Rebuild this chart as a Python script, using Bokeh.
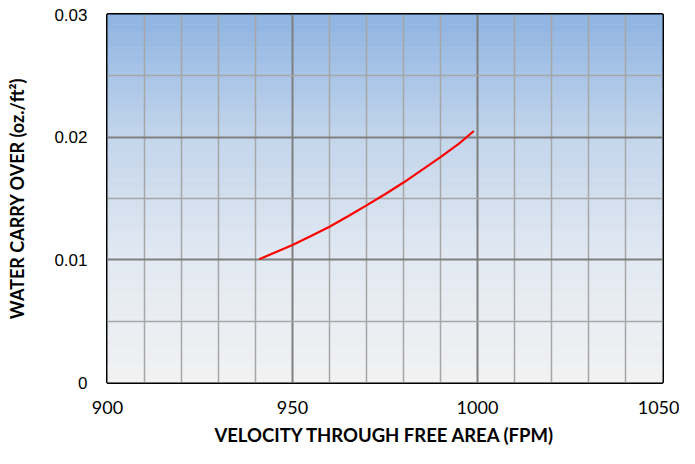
import numpy as np
from bokeh.plotting import figure
from bokeh.models import FixedTicker, Range1d
from bokeh.embed import file_html
from bokeh.resources import INLINE

# data
velocity = [941, 950, 955, 960, 965, 970, 975, 980, 985, 990, 995, 999]
carry_over = [0.01005, 0.01121, 0.01194, 0.01270, 0.01355, 0.01444, 0.01535,
              0.01630, 0.01734, 0.01838, 0.01948, 0.02050]

x_ticks = [900, 950, 1000, 1050]
x_minor = [910, 920, 930, 940, 960, 970, 980, 990, 1010, 1020, 1030, 1040]
y_ticks = [0, 0.01, 0.02, 0.03]
y_minor = [0.005, 0.015, 0.025]
y_tick_labels = ["0", "0.01", "0.02", "0.03"]

x_title = "VELOCITY THROUGH FREE AREA (FPM)"
y_title = "WATER CARRY OVER (oz./ft\u00b2)"

# background gradient stops (value -> rgb)
grad_pos = [0.0, 0.01, 0.02, 0.03]
grad_rgb = [(242, 242, 243), (226, 233, 242), (195, 213, 236), (141, 179, 226)]

p = figure(width=679, height=448, output_backend="svg", toolbar_location=None,
           x_range=Range1d(900, 1050), y_range=Range1d(0, 0.03),
           min_border_left=107, min_border_right=17, min_border_top=14, min_border_bottom=64)
p.background_fill_color = "#f2f2f2"
p.border_fill_color = "white"

# gradient strips
n = 190
edges = np.linspace(0, 0.03, n + 1)
cols = []
for i in range(n):
    mid = 0.5 * (edges[i] + edges[i + 1])
    r = np.interp(mid, grad_pos, [c[0] for c in grad_rgb])
    g = np.interp(mid, grad_pos, [c[1] for c in grad_rgb])
    b = np.interp(mid, grad_pos, [c[2] for c in grad_rgb])
    cols.append("#%02x%02x%02x" % (int(round(r)), int(round(g)), int(round(b))))
p.quad(left=900, right=1050, bottom=edges[:-1], top=edges[1:], fill_color=cols,
       line_color=cols, line_width=0.6, level="underlay")

p.line(velocity, carry_over, line_color="#ff0000", line_width=2.2)

p.xaxis.ticker = FixedTicker(ticks=x_ticks, minor_ticks=x_minor)
p.yaxis.ticker = FixedTicker(ticks=y_ticks, minor_ticks=y_minor)
p.yaxis.major_label_overrides = {t: l for t, l in zip(y_ticks, y_tick_labels)}

for g in (p.xgrid, p.ygrid):
    g.grid_line_color = "#7f7f7f"
    g.grid_line_width = 2
    g.minor_grid_line_color = "#a6a6a6"
    g.minor_grid_line_width = 1.5
    g.level = "underlay"

for ax in (p.xaxis, p.yaxis):
    ax.axis_line_color = None
    ax.major_tick_line_color = None
    ax.minor_tick_line_color = None
    ax.major_label_text_color = "black"
    ax.axis_label_text_color = "black"
    ax.axis_label_text_font = "Lato"
    ax.axis_label_text_font_style = "bold"

p.xaxis.major_label_text_font = "Lato"
p.xaxis.major_label_text_font_size = "18px"
p.xaxis.major_label_standoff = 12
p.xaxis.axis_label = x_title
p.xaxis.axis_label_text_font_size = "18.5px"
p.xaxis.axis_label_standoff = 7

p.yaxis.major_label_text_font = "Liberation Sans"
p.yaxis.major_label_text_font_size = "17px"
p.yaxis.major_label_standoff = 14
p.yaxis.axis_label = y_title
p.yaxis.axis_label_text_font_size = "18px"
p.yaxis.axis_label_standoff = 23

p.outline_line_color = "black"
p.outline_line_width = 3
p.outline_line_alpha = 1

open("out.html", "w").write(file_html(p, INLINE))
